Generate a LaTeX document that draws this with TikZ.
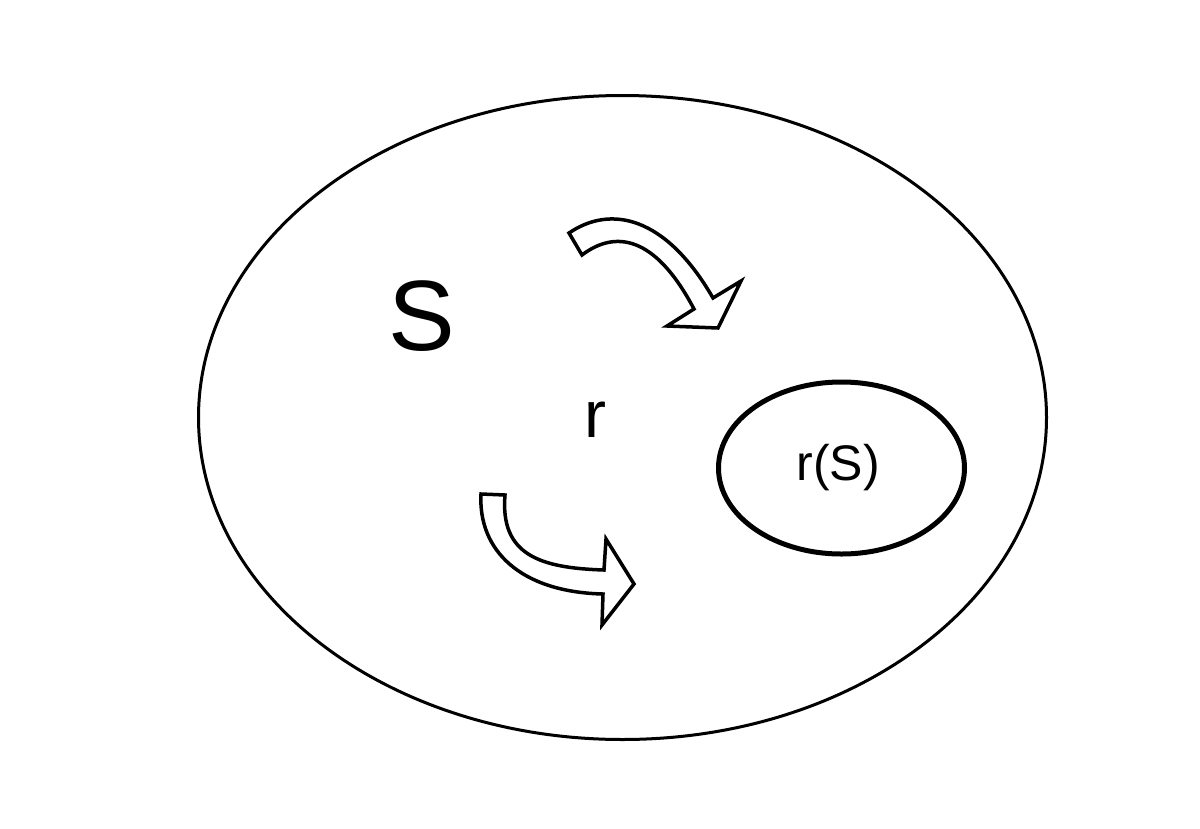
\documentclass[tikz,border=0pt]{standalone}
\usepackage{fontspec}
\setmainfont{Liberation Sans}
\tikzset{
  setline/.style={draw=black, line width=3pt},
  subline/.style={draw=black, line width=5pt},
  fatarrow/.style={draw=black, fill=white, line width=3.5pt, line join=miter},
  lbl/.style={inner sep=0pt, text=black}
}
\begin{document}
\begin{tikzpicture}[x=1pt, y=-1pt]
\useasboundingbox (0,0) rectangle (1200,828);
% big set S
\draw[setline] (622.5,417.5) ellipse [x radius=424, y radius=322];
% subset r(S)
\draw[subline] (841.5,468) ellipse [x radius=123, y radius=86];
% labels
\node[lbl, font=\fontsize{100}{100}\selectfont] (S) at (422,316) {S};
\node[lbl, font=\fontsize{66}{66}\selectfont] (r) at (595,420) {r};
\node[lbl, font=\fontsize{50}{50}\selectfont] (rS) at (838,468) {r(S)};
% top curved block arrow
\path[fatarrow] (569,233) .. controls (610,205) and (665,215) .. (713,298)
  -- (741,281) -- (718,328) -- (667,326) -- (694,309)
  .. controls (655,235) and (615,230) .. (582,255) -- cycle;
% bottom curved block arrow
\path[fatarrow] (481,494) -- (505,495)
  .. controls (500,555) and (540,568) .. (604,570)
  -- (606,539) -- (634,584) -- (602,625) -- (603,594)
  .. controls (520,592) and (478,550) .. (481,494) -- cycle;
\end{tikzpicture}
\end{document}
